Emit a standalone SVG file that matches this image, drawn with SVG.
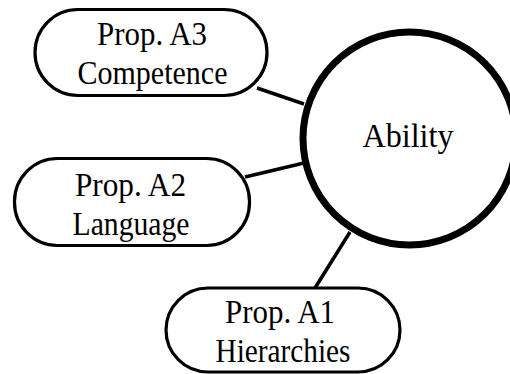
<svg xmlns="http://www.w3.org/2000/svg" width="510" height="374" viewBox="0 0 510 374">
  <style>
    .pill { fill: #fff; stroke: #000; stroke-width: 3.2; }
    .hub { fill: #fff; stroke: #000; stroke-width: 7; }
    .edge { stroke: #000; stroke-width: 3.5; fill: none; }
    text { font-family: "Liberation Serif", "Times New Roman", serif; fill: #000; text-anchor: middle; }
    .lbl { font-size: 33px; }
    .big { font-size: 34px; }
  </style>
  <rect width="510" height="374" fill="#fff"/>

  <!-- links from each proposition to the central concept -->
  <g id="connectors">
    <line class="edge" x1="257" y1="88" x2="304" y2="104"/>
    <line class="edge" x1="245" y1="177" x2="304" y2="163"/>
    <line class="edge" x1="315" y1="288" x2="350" y2="232"/>
  </g>

  <g id="ability">
    <circle class="hub" cx="409.5" cy="138.5" r="106.5"/>
    <text class="big" x="408" y="147" textLength="91" lengthAdjust="spacingAndGlyphs">Ability</text>
  </g>

  <g id="propA3">
    <rect class="pill" x="35" y="9.5" width="232" height="86" rx="43" ry="43"/>
    <text class="lbl" x="152" y="45" textLength="110" lengthAdjust="spacingAndGlyphs">Prop. A3</text>
    <text class="lbl" x="152.5" y="84" textLength="150" lengthAdjust="spacingAndGlyphs">Competence</text>
  </g>

  <g id="propA2">
    <rect class="pill" x="14.5" y="158.5" width="235" height="87" rx="43" ry="43"/>
    <text class="lbl" x="130.5" y="196" textLength="111" lengthAdjust="spacingAndGlyphs">Prop. A2</text>
    <text class="lbl" x="131" y="235" textLength="117" lengthAdjust="spacingAndGlyphs">Language</text>
  </g>

  <g id="propA1">
    <rect class="pill" x="166" y="288" width="234" height="84" rx="42" ry="42"/>
    <text class="lbl" x="280" y="323" textLength="110" lengthAdjust="spacingAndGlyphs">Prop. A1</text>
    <text class="lbl" x="283" y="362" textLength="135" lengthAdjust="spacingAndGlyphs">Hierarchies</text>
  </g>
</svg>
